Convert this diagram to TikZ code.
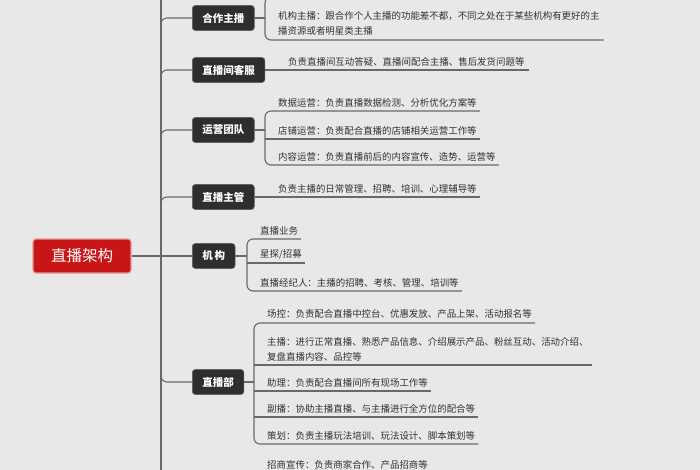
\documentclass[tikz,border=0pt]{standalone}
\usepackage{fontspec}
\setmainfont{Noto Sans CJK SC}
\usetikzlibrary{calc,positioning}
\definecolor{bggray}{RGB}{232,232,232}
\definecolor{topicdark}{RGB}{46,46,46}
\definecolor{rootred}{RGB}{200,22,24}
\definecolor{linegray}{RGB}{105,105,105}
\definecolor{textgray}{RGB}{50,50,50}
\begin{document}
\begin{tikzpicture}[x=1pt, y=-1pt,
  root/.style={rounded corners=3pt, draw=rootred!45!white, line width=1.2pt, fill=rootred,
    minimum width=98pt, minimum height=34pt, font=\fontsize{15.5}{17}\selectfont, text=white},
  topic/.style={rounded corners=3pt, draw=topicdark!75!white, line width=0.6pt, fill=topicdark,
    anchor=west, minimum height=25pt, inner xsep=10pt, font=\fontsize{10.5}{12}\selectfont\bfseries, text=white},
  leaf/.style={anchor=south west, inner xsep=0pt, inner ysep=4pt, align=left,
    font=\fontsize{9.45}{15}\selectfont, text=textgray},
  link/.style={line width=1.1pt, linegray, rounded corners=6pt}]
\useasboundingbox (0,0) rectangle (700,470);
\clip (0,0) rectangle (700,470);
\fill[bggray] (0,0) rectangle (700,470);
% Trunk and root
\coordinate (trunktop) at (161,-5);
\coordinate (trunkbot) at (161,480);
\draw[link] (trunktop) -- (trunkbot);
\node[root] (root) at (82,256) {直播架构};
% Topics
\node[topic] (hezuo) at (192,18) {合作主播};
\node[topic] (kefu) at (192,70) {直播间客服};
\node[topic] (yunying) at (192,130) {运营团队};
\node[topic] (zhuguan) at (192,197) {直播主管};
\node[topic] (jigou) at (192,256) {机\,构};
\node[topic] (zhibobu) at (192,382) {直播部};
% Branches from trunk
\draw[link] (root) -- (jigou);
\draw[link] ($(trunktop |- hezuo.west)+(0,10)$) |- (hezuo.west);
\draw[link] ($(trunktop |- kefu.west)+(0,10)$) |- (kefu.west);
\draw[link] ($(trunktop |- yunying.west)+(0,10)$) |- (yunying.west);
\draw[link] ($(trunktop |- zhuguan.west)+(0,10)$) |- (zhuguan.west);
\draw[link] ($(trunktop |- zhibobu.west)+(0,-10)$) |- (zhibobu.west);
% Leaves
\node[leaf] (hz1) at (278,40) {机构主播：跟合作个人主播的功能差不都，不同之处在于某些机构有更好的主\\播资源或者明星类主播};
\node[leaf] (kf1) at (288,70) {负责直播间互动答疑、直播间配合主播、售后发货问题等};
\node[leaf] (yy1) at (278,111) {数据运营：负责直播数据检测、分析优化方案等};
\node[leaf] (yy2) at (278,139) {店铺运营：负责配合直播的店铺相关运营工作等};
\node[leaf] (yy3) at (278,165) {内容运营：负责直播前后的内容宣传、造势、运营等};
\node[leaf] (zg1) at (278,197) {负责主播的日常管理、招聘、培训、心理辅导等};
\node[leaf] (jg1) at (260,239) {直播业务};
\node[leaf] (jg2) at (260,263) {星探/招募};
\node[leaf] (jg3) at (260,291) {直播经纪人：主播的招聘、考核、管理、培训等};
\node[leaf] (zb1) at (267,323) {场控：负责配合直播中控台、优惠发放、产品上架、活动报名等};
\node[leaf] (zb2) at (267,365) {主播：进行正常直播、熟悉产品信息、介绍展示产品、粉丝互动、活动介绍、\\复盘直播内容、品控等};
\node[leaf] (zb3) at (267,391) {助理：负责配合直播间所有现场工作等};
\node[leaf] (zb4) at (267,417) {副播：协助主播直播、与主播进行全方位的配合等};
\node[leaf] (zb5) at (267,444) {策划：负责主播玩法培训、玩法设计、脚本策划等};
\node[leaf] (zs1) at (267,474) {招商宣传：负责商家合作、产品招商等};
% Brackets
\coordinate (hzbrk) at (265,18);
\coordinate (hztop) at (300,-3);
\draw[link] (hezuo) -- (hzbrk);
\draw[link] (hztop) -- (hztop -| hzbrk) -- (hz1.south west -| hzbrk) -- ([xshift=4pt]hz1.south east);
\draw[link] (kefu) -- ([xshift=4pt]kf1.south east);
\coordinate (yybrk) at (265,130);
\draw[link] (yunying) -- (yybrk);
\draw[link] ([xshift=3pt]yy1.south east) -- (yy1.south west -| yybrk) -- (yy3.south west -| yybrk) -- ([xshift=3pt]yy3.south east);
\draw[link] (yy2.south west -| yybrk) -- ([xshift=3pt]yy2.south east);
\draw[link] (zhuguan) -- ([xshift=3pt]zg1.south east);
\coordinate (jgbrk) at (247,256);
\draw[link] (jigou) -- (jgbrk);
\draw[link] ([xshift=3pt]jg1.south east) -- (jg1.south west -| jgbrk) -- (jg3.south west -| jgbrk) -- ([xshift=3pt]jg3.south east);
\draw[link] (jg2.south west -| jgbrk) -- ([xshift=3pt]jg2.south east);
\coordinate (zbbrk) at (254,382);
\draw[link] (zhibobu) -- (zbbrk);
\draw[link] ([xshift=3pt]zb1.south east) -- (zb1.south west -| zbbrk) -- (zb5.south west -| zbbrk) -- ([xshift=3pt]zb5.south east);
\draw[link] (zb2.south west -| zbbrk) -- ([xshift=3pt]zb2.south east);
\draw[link] (zb3.south west -| zbbrk) -- ([xshift=3pt]zb3.south east);
\draw[link] (zb4.south west -| zbbrk) -- ([xshift=3pt]zb4.south east);
\end{tikzpicture}
\end{document}
